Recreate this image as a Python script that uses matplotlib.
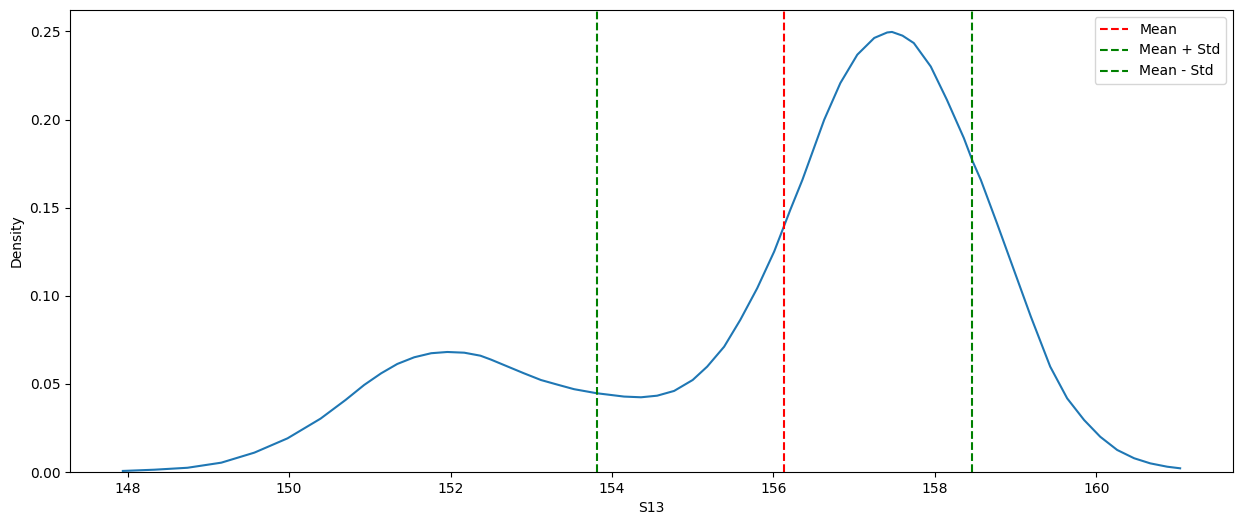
import matplotlib
matplotlib.use("Agg")
import matplotlib.pyplot as plt

# Density curve values (S13 vs Density)
s13 = [147.94, 148.33, 148.74, 149.16, 149.57, 149.98, 150.39, 150.70, 150.93,
       151.14, 151.34, 151.55, 151.76, 151.96, 152.17, 152.37, 152.50, 152.71,
       152.91, 153.12, 153.33, 153.53, 153.81, 154.15, 154.36, 154.56, 154.77,
       155.00, 155.18, 155.39, 155.59, 155.80, 156.01, 156.13, 156.21, 156.36,
       156.63, 156.83, 157.04, 157.25, 157.41, 157.47, 157.60, 157.74, 157.95,
       158.15, 158.36, 158.47, 158.57, 158.77, 158.98, 159.19, 159.43, 159.64,
       159.85, 160.05, 160.26, 160.47, 160.67, 160.88, 161.04]
density = [0.0006, 0.0013, 0.0024, 0.0053, 0.0110, 0.0191, 0.0303, 0.0409, 0.0494,
           0.0560, 0.0613, 0.0651, 0.0674, 0.0681, 0.0677, 0.0660, 0.0638, 0.0598,
           0.0560, 0.0522, 0.0495, 0.0470, 0.0447, 0.0428, 0.0424, 0.0433, 0.0460,
           0.0522, 0.0598, 0.0711, 0.0863, 0.1043, 0.1251, 0.1393, 0.1488, 0.1658,
           0.1999, 0.2207, 0.2368, 0.2463, 0.2494, 0.2497, 0.2476, 0.2434, 0.2301,
           0.2112, 0.1895, 0.1762, 0.1658, 0.1412, 0.1147, 0.0882, 0.0598, 0.0418,
           0.0295, 0.0200, 0.0125, 0.0078, 0.0049, 0.0030, 0.0021]

mean_val = 156.136
std_val = 2.327

fig = plt.figure(figsize=(12.42, 5.25), dpi=100)
ax = fig.add_axes([70 / 1242, 53 / 525, 1163 / 1242, 462 / 525])

ax.plot(s13, density, color="C0", linewidth=1.5)
ax.axvline(mean_val, color="r", linestyle="--", label="Mean")
ax.axvline(mean_val + std_val, color="g", linestyle="--", label="Mean + Std")
ax.axvline(mean_val - std_val, color="g", linestyle="--", label="Mean - Std")

ax.set_ylim(0, None)
ax.set_xlabel("S13")
ax.set_ylabel("Density")
ax.legend(loc="upper right")

fig.savefig("out.png", dpi=100)
